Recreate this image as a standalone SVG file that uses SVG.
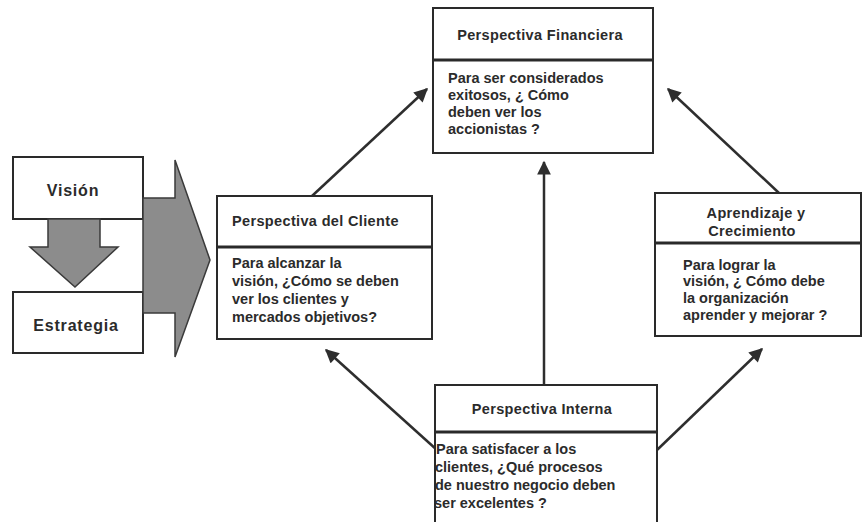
<svg xmlns="http://www.w3.org/2000/svg" width="862" height="522" viewBox="0 0 862 522">
  <defs>
    <style>
      .box { fill: #ffffff; stroke: #2a2a2a; stroke-width: 2; }
      .div { stroke: #2a2a2a; stroke-width: 3; fill: none; }
      .block { fill: #8c8c8c; stroke: #3a3a3a; stroke-width: 1.5; stroke-linejoin: miter; }
      .t { font-family: "Liberation Sans", Arial, sans-serif; font-size: 14.5px; font-weight: bold; fill: #2b2b2b; }
      .h { letter-spacing: 0.35px; }
      .big { font-size: 16px; letter-spacing: 0.8px; }
      .c { text-anchor: middle; }
      .link { stroke: #2e2e2e; stroke-width: 2.5; fill: none; marker-end: url(#head); }
    </style>
    <marker id="head" viewBox="0 0 10 10" refX="9" refY="5" markerWidth="6" markerHeight="5.5" markerUnits="strokeWidth" orient="auto">
      <path d="M0,0 L10,5 L0,10 Z" fill="#2e2e2e"/>
    </marker>
  </defs>
  <rect width="862" height="522" fill="#ffffff"/>

  <!-- Vision / strategy column -->
  <g id="vision">
    <rect class="box" x="13" y="157" width="130" height="62"/>
    <text class="t big c" x="73" y="196">Visión</text>
  </g>
  <g id="down-arrow">
    <path class="block" d="M48,219 L100,219 L100,247 L118,247 L75,287 L30,247 L48,247 Z"/>
  </g>
  <g id="estrategia">
    <rect class="box" x="13" y="292" width="130" height="61"/>
    <text class="t big c" x="76" y="331">Estrategia</text>
  </g>
  <g id="right-arrow">
    <path class="block" d="M143,198 L175,198 L175,160 L210,260 L175,357 L175,313 L143,313 Z"/>
  </g>

  <!-- Connectors -->
  <g id="connectors">
    <line class="link" x1="312" y1="196" x2="427" y2="89"/>
    <line class="link" x1="544" y1="385" x2="544" y2="162"/>
    <line class="link" x1="779" y1="193" x2="668" y2="89"/>
    <line class="link" x1="437" y1="450" x2="326" y2="350"/>
    <line class="link" x1="657" y1="450" x2="762" y2="349"/>
  </g>

  <!-- Financial perspective -->
  <g id="financiera">
    <rect class="box" x="433" y="8" width="220" height="145"/>
    <line class="div" x1="433" y1="60" x2="653" y2="60"/>
    <text class="t h c" x="540" y="40">Perspectiva Financiera</text>
    <text class="t" x="448" y="83">Para ser considerados</text>
    <text class="t" x="448" y="100">exitosos, ¿ Cómo</text>
    <text class="t" x="448" y="117">deben ver los</text>
    <text class="t" x="448" y="134">accionistas ?</text>
  </g>

  <!-- Customer perspective -->
  <g id="cliente">
    <rect class="box" x="217" y="196" width="215" height="143"/>
    <line class="div" x1="217" y1="247" x2="432" y2="247"/>
    <text class="t h" x="232" y="226">Perspectiva del Cliente</text>
    <text class="t" x="232" y="268">Para alcanzar la</text>
    <text class="t" x="232" y="286">visión, ¿Cómo se deben</text>
    <text class="t" x="232" y="304">ver los clientes y</text>
    <text class="t" x="232" y="322">mercados objetivos?</text>
  </g>

  <!-- Learning and growth -->
  <g id="aprendizaje">
    <rect class="box" x="655" y="193" width="206" height="143"/>
    <line class="div" x1="655" y1="243" x2="861" y2="243"/>
    <text class="t h c" x="756" y="218">Aprendizaje y</text>
    <text class="t h c" x="752" y="236">Crecimiento</text>
    <text class="t" x="683" y="270">Para lograr la</text>
    <text class="t" x="683" y="286">visión, ¿ Cómo debe</text>
    <text class="t" x="683" y="303">la organización</text>
    <text class="t" x="683" y="320">aprender y mejorar ?</text>
  </g>

  <!-- Internal perspective -->
  <g id="interna">
    <path class="box" d="M435,526 L435,385 L657,385 L657,526"/>
    <line class="div" x1="435" y1="432" x2="657" y2="432"/>
    <text class="t h c" x="542" y="414">Perspectiva Interna</text>
    <text class="t" x="436" y="454">Para satisfacer a los</text>
    <text class="t" x="435" y="472">clientes, ¿Qué procesos</text>
    <text class="t" x="435" y="490">de nuestro negocio deben</text>
    <text class="t" x="434" y="508">ser excelentes ?</text>
  </g>
</svg>
